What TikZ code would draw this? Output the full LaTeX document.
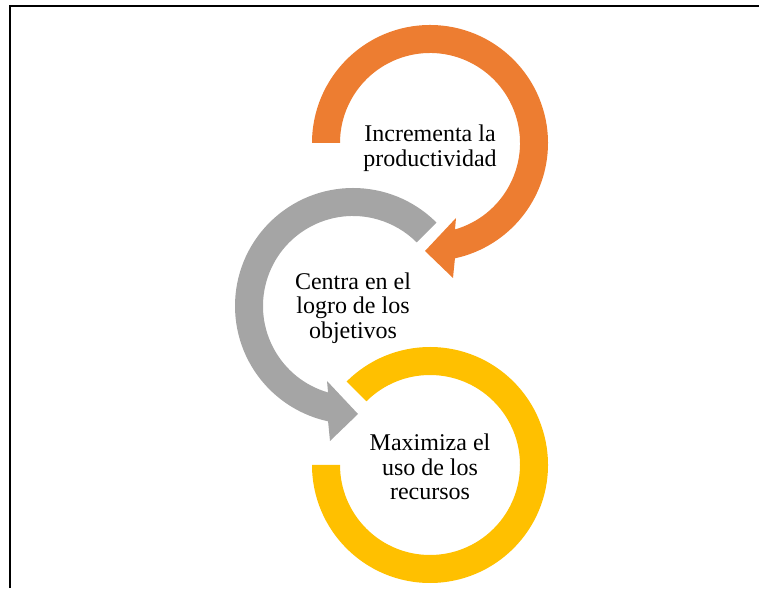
\documentclass[tikz,border=0pt]{standalone}
\usepackage{fontspec}
\setmainfont{Liberation Serif}
\usetikzlibrary{positioning}
\definecolor{ringorange}{HTML}{ED7D31}
\definecolor{ringgray}{HTML}{A5A5A5}
\definecolor{ringyellow}{HTML}{FFC000}

\begin{document}
\begin{tikzpicture}[x=0.75pt, y=0.75pt,
		ringtext/.style={align=center, inner sep=0pt, font=\fontsize{18}{18.4}\selectfont}]
		\useasboundingbox (0,0) rectangle (759,588);
		% frame (top and left only)
		\draw[line width=1.5pt] (10,0)--(10,581.5)--(759,581.5);
		% ring centres
		\coordinate (c1) at (430,445);
		\coordinate (c2) at (353,282);
		\coordinate (c3) at (430,123);
		%
		% orange ring, clockwise, arrow at the bottom
		\begin{scope}[shift={(c1)}]
			\fill[ringorange] (180:118) arc[start angle=180, end angle=-77.8, radius=118]
				-- (23,-135) -- (-5,-108) -- (26,-75) -- (-73.9:90)
				arc[start angle=-73.9, end angle=180, radius=90] -- cycle;
		\end{scope}
		% gray ring, counterclockwise
		\begin{scope}[shift={(c2)}]
			\fill[ringgray] (45:118) arc[start angle=45, end angle=257.8, radius=118]
				-- (-23,-135) -- (5,-108) -- (-26,-75) -- (253.9:90)
				arc[start angle=253.9, end angle=45, radius=90] -- cycle;
		\end{scope}
		% yellow ring, no arrow
		\begin{scope}[shift={(c3)}]
			\fill[ringyellow] (180:118) arc[start angle=180, end angle=495, radius=118]
				-- (135:90) arc[start angle=495, end angle=180, radius=90] -- cycle;
		\end{scope}
		% labels:
		\node[ringtext] (incr) at (430,440) {Incrementa la\\productividad};
		\node[ringtext] (centra) at (353,280) {Centra en el\\logro de los\\objetivos};
		\node[ringtext] (maxi) at (430,121) {Maximiza el\\uso de los\\recursos};
	\end{tikzpicture}
\end{document}
